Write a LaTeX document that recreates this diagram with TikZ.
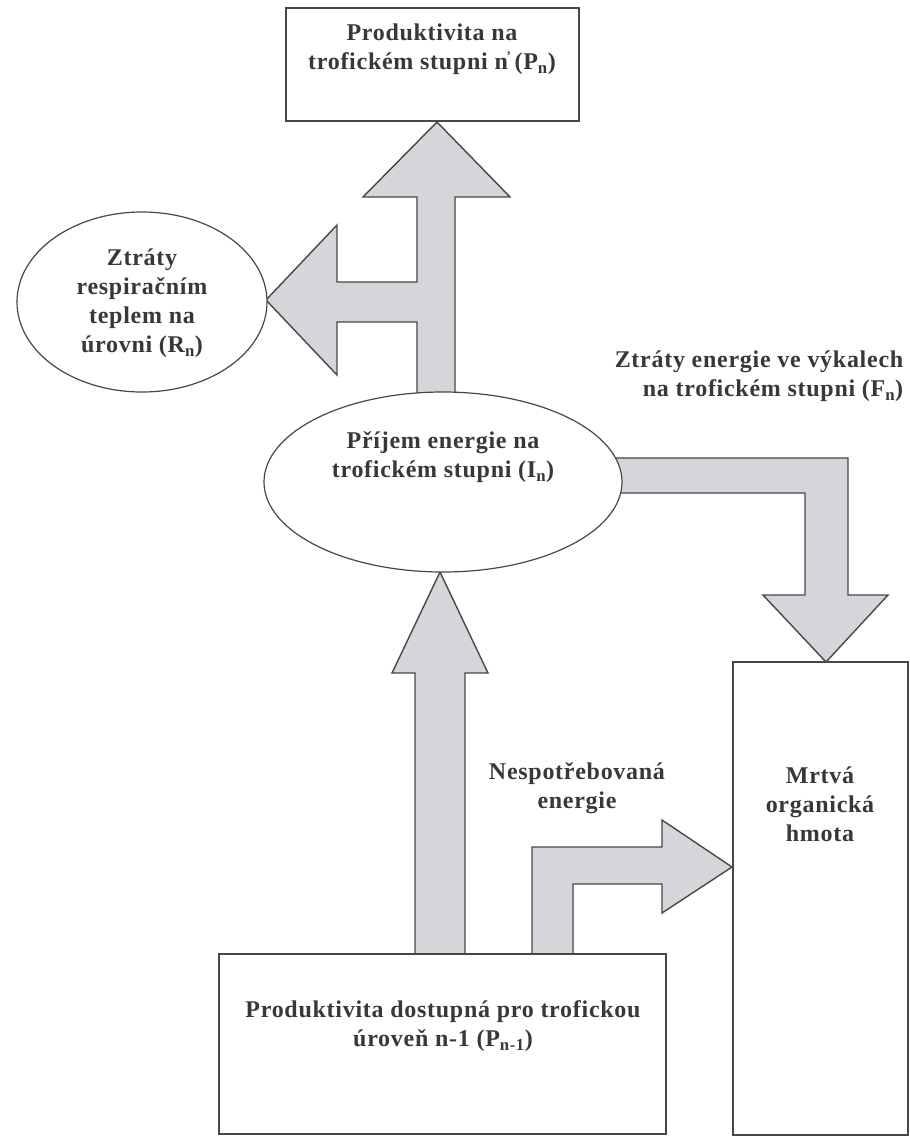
\documentclass[tikz,border=0pt]{standalone}
\usepackage{fontspec}
\setmainfont{Liberation Serif}[LetterSpace=3]
\usetikzlibrary{shapes.geometric}
\definecolor{linec}{HTML}{474747}
\definecolor{fillc}{HTML}{D4D6DA}
\definecolor{textc}{HTML}{383838}
\newcommand{\subx}[1]{\textsubscript{#1}}
\tikzset{
  blockarrow/.style={draw=linec, fill=fillc, line width=1.4pt, line join=miter},
  boxnode/.style={draw=linec, fill=white, line width=1.4pt, inner sep=0pt},
  ellnode/.style={ellipse, draw=linec, fill=white, line width=1.2pt, inner sep=0pt},
  txt/.style={text=textc, font=\bfseries\fontsize{24}{29}\selectfont, align=center, inner sep=0pt},
}
\begin{document}
\begin{tikzpicture}[x=1pt,y=-1pt]
\useasboundingbox (0,0) rectangle (910,1136);
% block arrows
\draw[blockarrow] (417,395) -- (417,322) -- (337,322) -- (337,375) -- (266,300) -- (337,225) -- (337,282) -- (417,282) -- (417,197) -- (363,197) -- (437,122) -- (510,197) -- (455,197) -- (455,395) -- cycle;
\draw[blockarrow] (415,954) -- (415,673) -- (392,673) -- (440,572) -- (488,673) -- (465,673) -- (465,954) -- cycle;
\draw[blockarrow] (532,954) -- (532,847) -- (662,847) -- (662,820) -- (732,867) -- (662,913) -- (662,884) -- (573,884) -- (573,954) -- cycle;
\draw[blockarrow] (600,458) -- (848,458) -- (848,595) -- (888,595) -- (826,662) -- (763,595) -- (805,595) -- (805,493) -- (600,493) -- cycle;
% shapes
\node[boxnode, minimum width=293pt, minimum height=113pt] (pn) at (432.5,64.5) {};
\node[ellnode, minimum width=250pt, minimum height=180pt] (rn) at (142,302) {};
\node[ellnode, minimum width=358pt, minimum height=180pt] (in) at (443,482) {};
\node[boxnode, minimum width=447pt, minimum height=180pt] (pn1) at (442.5,1044) {};
\node[boxnode, minimum width=175pt, minimum height=473pt] (dom) at (820.5,898.5) {};
% texts
\node[txt] (tpn) at (432,49) {Produktivita na\\trofickém stupni n\kern-0.05em\raisebox{0.35em}{\fontsize{13}{13}\selectfont'}\kern0.15em(P\subx{n})};
\node[txt] (trn) at (142,303) {Ztráty\\respiračním\\teplem na\\úrovni (R\subx{n})};
\node[txt] (tin) at (443,457) {Příjem energie na\\trofickém stupni (I\subx{n})};
\node[txt, align=right] (tfn) at (759,376) {Ztráty energie ve výkalech\\na trofickém stupni (F\subx{n})};
\node[txt] (tne) at (577,788) {Nespotřebovaná\\energie};
\node[txt] (tdom) at (820,804) {Mrtvá\\organická\\hmota};
\node[txt] (tpn1) at (443,1026) {Produktivita dostupná pro trofickou\\úroveň n-1 (P\subx{n-1})};
\end{tikzpicture}
\end{document}
